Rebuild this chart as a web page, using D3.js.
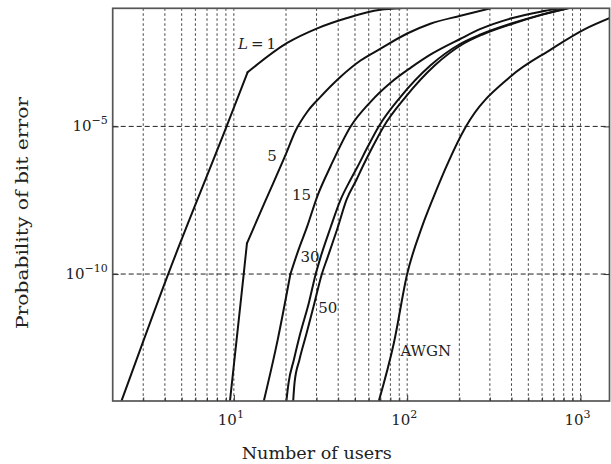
<!DOCTYPE html>
<html>
<head>
<meta charset="utf-8">
<script src="https://cdn.jsdelivr.net/npm/d3@7"></script>
<style>
body { margin: 0; background: #fff; }
svg text { font-family: "DejaVu Serif", serif; fill: #222; }
</style>
</head>
<body>
<svg id="chart" width="611" height="464"></svg>
<script>
// values: number of users vs probability of bit error
var usersL1 = [2.25, 4.18, 9.08, 12, 20.3, 30.3, 45, 70, 92];
var berL1   = [5.1e-15, 1e-10, 1e-5, 6.8e-4, 6.7e-3, 0.021, 0.047, 0.089, 0.1];

var usersL5 = [9.5, 11.4, 11.9, 15.2, 19.9, 22.7, 26.6, 31.6, 41.3, 53.8, 70.2, 100, 136, 203, 303];
var berL5   = [5.1e-15, 1e-10, 1.1e-9, 3.0e-8, 1.1e-6, 7.1e-6, 3.2e-5, 1.0e-4, 4.8e-4, 1.7e-3, 4.3e-3, 0.014, 0.030, 0.056, 0.1];

var usersL15 = [14.9, 17.9, 21.2, 23.6, 26.5, 30.3, 36.1, 47.1, 61.5, 80.2, 105, 136, 203, 265, 395, 589, 767];
var berL15   = [5.1e-15, 5.9e-13, 1e-10, 6.6e-10, 4.1e-9, 4.3e-8, 4.4e-7, 9.8e-6, 6.8e-5, 3.0e-4, 9.8e-4, 2.7e-3, 9.3e-3, 0.020, 0.045, 0.077, 0.1];

var usersL30 = [20.1, 20.7, 22.2, 24.2, 27.1, 29.6, 31.6, 36.1, 41.3, 47.1, 51.7, 59.1, 68.4, 91.6, 136, 203, 265, 395, 589, 839];
var berL30   = [5.1e-15, 2.1e-14, 1.26e-13, 1.0e-12, 1.07e-11, 9.5e-11, 3.6e-10, 3.7e-9, 3.3e-8, 1.56e-7, 4.3e-7, 2.0e-6, 9.8e-6, 1.0e-4, 1.15e-3, 6.3e-3, 0.013, 0.030, 0.060, 0.1];

var usersL50 = [22.0, 22.4, 23.9, 26.3, 29.2, 32.1, 34.7, 39.7, 44.7, 51.0, 55.3, 63.1, 73.1, 98, 144, 211, 272, 405, 597, 851];
var berL50   = [5.1e-15, 2.1e-14, 1.26e-13, 1.0e-12, 1.07e-11, 9.5e-11, 3.6e-10, 3.7e-9, 3.3e-8, 1.56e-7, 4.3e-7, 2.0e-6, 9.8e-6, 1.0e-4, 1.15e-3, 6.3e-3, 0.013, 0.030, 0.060, 0.1];

var usersAWGN = [68.7, 83.8, 100, 122, 140, 173, 217, 395, 673, 1047, 1480];
var berAWGN   = [5.1e-15, 4.6e-13, 1e-10, 4.1e-9, 3.3e-8, 6.3e-7, 9.3e-6, 4.9e-4, 4.0e-3, 0.019, 0.047];

// index of the point where a curve has a sharp bend (-1: none)
var kinkAt = [3, 2, 2, -1, -1, -1];

var curveLabels = ["L=1", "5", "15", "30", "50", "AWGN"];
var labelUsers = [13.6, 16.6, 24.6, 27.5, 34.8, 128];
var labelBer = [4.3e-3, 6.9e-7, 3.3e-8, 2.6e-10, 4.9e-12, 1.7e-13];

var yTickValues = [1e-5, 1e-10];
var yTickExp = ["\u22125", "\u221210"];
var xMajor = [10, 100, 1000];
var xTickExp = ["1", "2", "3"];

var series = [
  { users: usersL1, ber: berL1 },
  { users: usersL5, ber: berL5 },
  { users: usersL15, ber: berL15 },
  { users: usersL30, ber: berL30 },
  { users: usersL50, ber: berL50 },
  { users: usersAWGN, ber: berAWGN }
];

var plotLeft = 112.7, plotRight = 609.5, plotTop = 8.3, plotBottom = 401;

var x = d3.scaleLog().domain([2, 1470]).range([plotLeft, plotRight]);
var y = d3.scaleLog().domain([Math.pow(10, -14.3), 0.1]).range([plotBottom, plotTop]);

var svg = d3.select("#chart");

svg.append("clipPath").attr("id", "plotclip")
  .append("rect")
  .attr("x", plotLeft).attr("y", plotTop)
  .attr("width", plotRight - plotLeft).attr("height", plotBottom - plotTop);

// vertical dotted grid at every tick
var xTicks = x.ticks().filter(function(d) { return d > 2; });
svg.append("g").selectAll("line")
  .data(xTicks)
  .enter().append("line")
  .attr("x1", function(d) { return x(d); })
  .attr("x2", function(d) { return x(d); })
  .attr("y1", plotTop).attr("y2", plotBottom)
  .attr("stroke", "#444")
  .attr("stroke-width", 1)
  .attr("stroke-dasharray", "2.5,2.5");

// horizontal dashed grid
svg.append("g").selectAll("line")
  .data(yTickValues)
  .enter().append("line")
  .attr("x1", plotLeft).attr("x2", plotRight)
  .attr("y1", function(d) { return y(d); })
  .attr("y2", function(d) { return y(d); })
  .attr("stroke", "#222")
  .attr("stroke-width", 1)
  .attr("stroke-dasharray", "5,3");

// curves, split at the sharp bend so the corner stays sharp
var line = d3.line()
  .x(function(d) { return x(d[0]); })
  .y(function(d) { return y(d[1]); })
  .curve(d3.curveMonotoneX);

var pieces = [];
series.forEach(function(s, i) {
  var pts = d3.zip(s.users, s.ber);
  var k = kinkAt[i];
  if (k > 0) {
    pieces.push(pts.slice(0, k + 1));
    pieces.push(pts.slice(k));
  } else {
    pieces.push(pts);
  }
});

svg.append("g").attr("clip-path", "url(#plotclip)")
  .selectAll("path")
  .data(pieces)
  .enter().append("path")
  .attr("d", line)
  .attr("fill", "none")
  .attr("stroke", "#111")
  .attr("stroke-width", 2)
  .attr("stroke-linejoin", "round")
  .attr("stroke-linecap", "round");

// frame
svg.append("rect")
  .attr("x", plotLeft).attr("y", plotTop)
  .attr("width", plotRight - plotLeft).attr("height", plotBottom - plotTop)
  .attr("fill", "none")
  .attr("stroke", "#555")
  .attr("stroke-width", 1.7);

// x ticks (inward)
var xAxis = svg.append("g")
  .attr("transform", "translate(0," + plotBottom + ")")
  .call(d3.axisBottom(x).tickValues(xTicks).tickSize(-3).tickFormat(""));
xAxis.select(".domain").remove();
xAxis.selectAll(".tick line")
  .attr("y2", function(d) { return xMajor.indexOf(d) >= 0 ? -6 : -3.5; });

// y ticks left and right
var yAxisL = svg.append("g")
  .attr("transform", "translate(" + plotLeft + ",0)")
  .call(d3.axisLeft(y).tickValues(yTickValues).tickSize(-6).tickFormat(""));
yAxisL.select(".domain").remove();
var yAxisR = svg.append("g")
  .attr("transform", "translate(" + plotRight + ",0)")
  .call(d3.axisRight(y).tickValues(yTickValues).tickSize(-6).tickFormat(""));
yAxisR.select(".domain").remove();
svg.selectAll(".tick line").attr("stroke", "#333");

// x tick labels
var xl = svg.append("g").selectAll("text")
  .data(xMajor)
  .enter().append("text")
  .attr("x", function(d) { return x(d) - 3; })
  .attr("y", 425)
  .attr("text-anchor", "middle")
  .attr("font-size", 15);
xl.append("tspan").text("10");
xl.append("tspan")
  .attr("dy", -7)
  .attr("font-size", 11)
  .text(function(d, i) { return xTickExp[i]; });

// y tick labels
var yl = svg.append("g").selectAll("text")
  .data(yTickValues)
  .enter().append("text")
  .attr("x", plotLeft - 5)
  .attr("y", function(d) { return y(d) + 5; })
  .attr("text-anchor", "end")
  .attr("font-size", 15);
yl.append("tspan").text("10");
yl.append("tspan")
  .attr("dy", -7)
  .attr("font-size", 11)
  .text(function(d, i) { return yTickExp[i]; });

// axis titles
svg.append("text")
  .attr("x", 316.7)
  .attr("y", 459)
  .attr("text-anchor", "middle")
  .attr("font-size", 16)
  .attr("textLength", 150)
  .attr("lengthAdjust", "spacingAndGlyphs")
  .text("Number of users");

svg.append("text")
  .attr("transform", "translate(28,213) rotate(-90)")
  .attr("text-anchor", "middle")
  .attr("font-size", 17)
  .attr("textLength", 232)
  .attr("lengthAdjust", "spacingAndGlyphs")
  .text("Probability of bit error");

// curve labels
var cl = svg.append("g").selectAll("text")
  .data(curveLabels)
  .enter().append("text")
  .attr("x", function(d, i) { return x(labelUsers[i]); })
  .attr("y", function(d, i) { return y(labelBer[i]); })
  .attr("text-anchor", "middle")
  .attr("font-size", 15);
cl.each(function(d) {
  var t = d3.select(this);
  if (d === "L=1") {
    t.append("tspan").attr("font-style", "italic").text("L");
    t.append("tspan").text("\u2009=\u20091");
  } else {
    t.text(d);
  }
});
</script>
</body>
</html>
